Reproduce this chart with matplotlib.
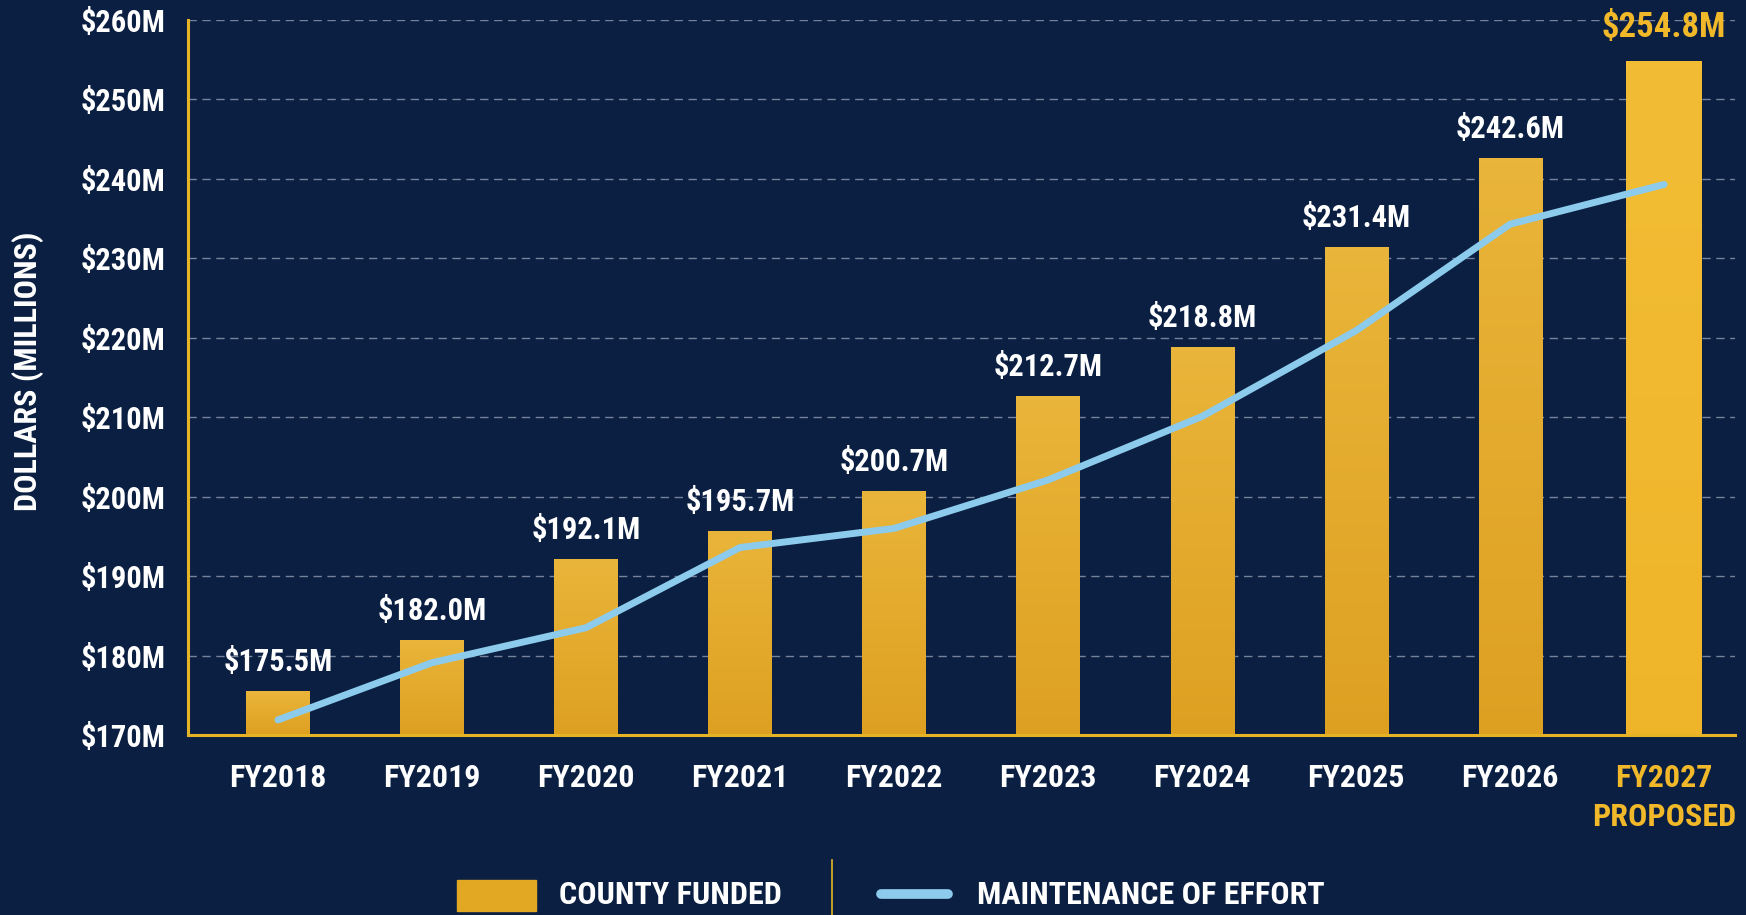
import matplotlib
matplotlib.use("Agg")
import matplotlib.pyplot as plt
from matplotlib import font_manager
from matplotlib.patches import Rectangle
from matplotlib.lines import Line2D
import numpy as np

# data
years = ["FY2018", "FY2019", "FY2020", "FY2021", "FY2022",
         "FY2023", "FY2024", "FY2025", "FY2026", "FY2027\nPROPOSED"]
county_funded = [175.5, 182.0, 192.1, 195.7, 200.7, 212.7, 218.8, 231.4, 242.6, 254.8]
moe = [171.9, 179.1, 183.5, 193.6, 196.0, 202.1, 210.1, 220.9, 234.3, 239.3]
yticks = [170, 180, 190, 200, 210, 220, 230, 240, 250, 260]

BG = "#0a1f42"
GOLD = "#e2a823"
GOLD_HI = "#f1b82a"
SPINE = "#e6b325"
BLUE = "#8ccbeb"


def pick_font():
    fl = font_manager.fontManager.ttflist
    for cand in ["Roboto Condensed", "Oswald", "Barlow Condensed", "Asap Condensed",
                 "Archivo Narrow"]:
        ws = [f.weight for f in fl if f.name == cand]
        ws = [w if isinstance(w, int) else 700 if w == "bold" else 400 for w in ws]
        if any(w >= 600 for w in ws):
            return cand
    return "DejaVu Sans"


FONT = dict(family=pick_font(), weight="bold")

fig = plt.figure(figsize=(17.46, 9.15), dpi=100, facecolor=BG)
ax = fig.add_axes([188 / 1746, 1 - 735 / 915, (1735 - 188) / 1746, (735 - 20) / 915])
ax.set_facecolor(BG)

x = np.arange(len(years))
widths = [0.41] * (len(years) - 1) + [0.49]
bars = ax.bar(x, np.array(county_funded) - 170, bottom=170, width=widths,
              color=GOLD, zorder=2)

# subtle vertical gradient on each bar
for i, b in enumerate(bars):
    top = "#f2bd35" if i == len(bars) - 1 else "#e9b53a"
    bot = "#efb52a" if i == len(bars) - 1 else "#dea021"
    c1 = np.array(matplotlib.colors.to_rgb(top))
    c2 = np.array(matplotlib.colors.to_rgb(bot))
    t = np.linspace(0, 1, 100)[:, None]
    grad = (c1 * (1 - t) + c2 * t)[:, None, :]
    bx, by = b.get_x(), b.get_y()
    im = ax.imshow(grad, extent=[bx, bx + b.get_width(), by, by + b.get_height()],
                   aspect="auto", zorder=2.1, origin="upper")
    im.set_clip_path(b)

ax.plot(x, moe, color=BLUE, lw=5, solid_capstyle="round", solid_joinstyle="round", zorder=4)

for i, v in enumerate(county_funded):
    last = i == len(county_funded) - 1
    ax.annotate(f"${v:.1f}M", (x[i], v), xytext=(0, 34 if last else 29), textcoords="offset pixels",
                ha="center", va="center", color=GOLD_HI if last else "white",
                fontsize=25 if last else 22, **FONT, zorder=5)

ax.set_xlim(-0.584, 9.46)
ax.set_ylim(170, 260)
ax.set_yticks(yticks)
ax.set_yticklabels([f"${t}M" for t in yticks], color="white", fontsize=22, **FONT)
ax.set_xticks(x)
ax.set_xticklabels(years, fontsize=23, color="white", linespacing=1.4, **FONT)
ax.get_xticklabels()[-1].set_color(GOLD_HI)
ax.tick_params(axis="both", length=0)
ax.tick_params(axis="y", pad=16)
ax.tick_params(axis="x", pad=20)

ax.grid(axis="y", color="#9aa4b8", ls=(0, (6, 4)), lw=1, alpha=0.75, zorder=1)
ax.set_axisbelow(True)
for s in ["top", "right"]:
    ax.spines[s].set_visible(False)
for s in ["left", "bottom"]:
    ax.spines[s].set_color(SPINE)
    ax.spines[s].set_linewidth(2.2)
    ax.spines[s].set_zorder(3)

fig.text(28 / 1746, 1 - 371 / 915, "DOLLARS (MILLIONS)", rotation=90, ha="center", va="center",
         color="white", fontsize=23, **FONT)

# legend
fig.patches.append(Rectangle((457 / 1746, 1 - 911 / 915), 79 / 1746, 31 / 915,
                             transform=fig.transFigure, color=GOLD, figure=fig))
fig.text(559 / 1746, 1 - 895 / 915, "COUNTY FUNDED", ha="left", va="center",
         color="white", fontsize=23, **FONT)
fig.lines.append(Line2D([832 / 1746, 832 / 1746], [1 - 860 / 915, 0], transform=fig.transFigure,
                        color=SPINE, lw=1.2, figure=fig))
fig.lines.append(Line2D([881 / 1746, 948 / 1746], [1 - 894 / 915, 1 - 894 / 915],
                        transform=fig.transFigure, color=BLUE, lw=7, solid_capstyle="round", figure=fig))
fig.text(977 / 1746, 1 - 895 / 915, "MAINTENANCE OF EFFORT", ha="left", va="center",
         color="white", fontsize=23, **FONT)

fig.savefig("out.png", dpi=100, facecolor=BG)
